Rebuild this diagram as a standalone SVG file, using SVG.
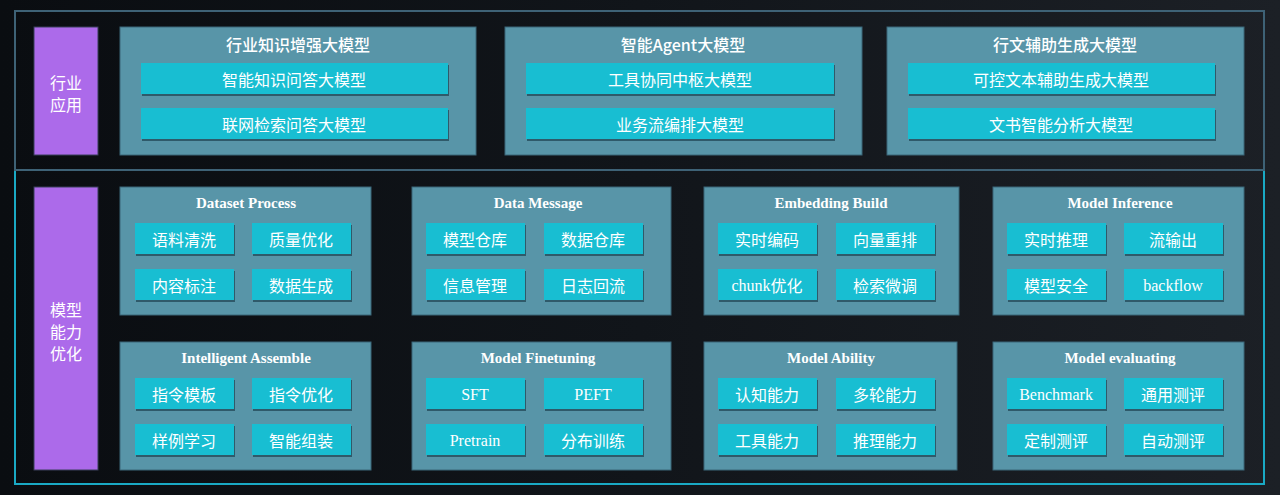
<svg xmlns="http://www.w3.org/2000/svg" width="1280" height="495" viewBox="0 0 1280 495">
<defs>
<linearGradient id="bg" x1="0" y1="0" x2="1" y2="0">
<stop offset="0" stop-color="#0a0d11"/>
<stop offset="0.5" stop-color="#11151a"/>
<stop offset="1" stop-color="#1c2026"/>
</linearGradient>
</defs>
<style>
.side{fill:#ac6aea;stroke:#3b3f5a;stroke-width:1}
.panel{fill:#5895a8;stroke:#3a6678;stroke-width:1}
.box{fill:#18bed2}
.shadow{fill:#2f5a6a}
.t{fill:#ffffff;font-family:"Liberation Serif","Noto Sans CJK SC",serif;text-anchor:middle;dominant-baseline:central}
.cn{font-family:"Noto Sans CJK SC",sans-serif;font-size:16px}
.en{font-family:"Liberation Serif","Noto Sans CJK SC",serif;font-size:16px}
.title{font-size:16px;font-weight:500}
.stitle{font-size:15px;font-weight:bold;font-family:"Liberation Serif",serif}
</style>
<rect x="0" y="0" width="1280" height="495" fill="url(#bg)"/>
<g id="frames">
<rect x="15" y="170" width="1249" height="314" fill="none" stroke="#1aa9c4" stroke-width="2"/>
<rect x="15" y="11" width="1249" height="159" fill="none" stroke="#3e6276" stroke-width="2"/>
</g>
<g id="side-app">
<rect class="side" x="34" y="27" width="64" height="128"/>
<text class="t cn" x="66" y="82">行业</text>
<text class="t cn" x="66" y="104">应用</text>
</g>
<g id="side-model">
<rect class="side" x="34" y="187" width="64" height="283"/>
<text class="t cn" x="66" y="309">模型</text>
<text class="t cn" x="66" y="331">能力</text>
<text class="t cn" x="66" y="353">优化</text>
</g>
<g id="app1">
<rect class="panel" x="120" y="27" width="356" height="128"/>
<text class="t cn title" x="298" y="44">行业知识增强大模型</text>
<rect class="shadow" x="142" y="65" width="307" height="31"/>
<rect class="box" x="141" y="63" width="307" height="31"/>
<text class="t cn" x="294" y="79">智能知识问答大模型</text>
<rect class="shadow" x="142" y="110" width="307" height="31"/>
<rect class="box" x="141" y="108" width="307" height="31"/>
<text class="t cn" x="294" y="124">联网检索问答大模型</text>
</g>
<g id="app2">
<rect class="panel" x="505" y="27" width="357" height="128"/>
<text class="t cn title" x="683" y="44">智能Agent大模型</text>
<rect class="shadow" x="527" y="65" width="308" height="31"/>
<rect class="box" x="526" y="63" width="308" height="31"/>
<text class="t cn" x="680" y="79">工具协同中枢大模型</text>
<rect class="shadow" x="527" y="110" width="308" height="31"/>
<rect class="box" x="526" y="108" width="308" height="31"/>
<text class="t cn" x="680" y="124">业务流编排大模型</text>
</g>
<g id="app3">
<rect class="panel" x="887" y="27" width="357" height="128"/>
<text class="t cn title" x="1065" y="44">行文辅助生成大模型</text>
<rect class="shadow" x="909" y="65" width="307" height="31"/>
<rect class="box" x="908" y="63" width="307" height="31"/>
<text class="t cn" x="1061" y="79">可控文本辅助生成大模型</text>
<rect class="shadow" x="909" y="110" width="307" height="31"/>
<rect class="box" x="908" y="108" width="307" height="31"/>
<text class="t cn" x="1061" y="124">文书智能分析大模型</text>
</g>
<g id="dataset-process">
<rect class="panel" x="120" y="187" width="251" height="128"/>
<text class="t stitle" x="246" y="203">Dataset Process</text>
<rect class="shadow" x="136" y="225" width="99" height="31"/><rect class="box" x="135" y="223" width="99" height="31"/>
<text class="t cn" x="184" y="239">语料清洗</text>
<rect class="shadow" x="253" y="225" width="99" height="31"/><rect class="box" x="252" y="223" width="99" height="31"/>
<text class="t cn" x="301" y="239">质量优化</text>
<rect class="shadow" x="136" y="271" width="99" height="31"/><rect class="box" x="135" y="269" width="99" height="31"/>
<text class="t cn" x="184" y="285">内容标注</text>
<rect class="shadow" x="253" y="271" width="99" height="31"/><rect class="box" x="252" y="269" width="99" height="31"/>
<text class="t cn" x="301" y="285">数据生成</text>
</g>
<g id="data-message">
<rect class="panel" x="412" y="187" width="259" height="128"/>
<text class="t stitle" x="538" y="203">Data Message</text>
<rect class="shadow" x="427" y="225" width="99" height="31"/><rect class="box" x="426" y="223" width="99" height="31"/>
<text class="t cn" x="475" y="239">模型仓库</text>
<rect class="shadow" x="545" y="225" width="99" height="31"/><rect class="box" x="544" y="223" width="99" height="31"/>
<text class="t cn" x="593" y="239">数据仓库</text>
<rect class="shadow" x="427" y="271" width="99" height="31"/><rect class="box" x="426" y="269" width="99" height="31"/>
<text class="t cn" x="475" y="285">信息管理</text>
<rect class="shadow" x="545" y="271" width="99" height="31"/><rect class="box" x="544" y="269" width="99" height="31"/>
<text class="t cn" x="593" y="285">日志回流</text>
</g>
<g id="embedding-build">
<rect class="panel" x="704" y="187" width="255" height="128"/>
<text class="t stitle" x="831" y="203">Embedding Build</text>
<rect class="shadow" x="719" y="225" width="99" height="31"/><rect class="box" x="718" y="223" width="99" height="31"/>
<text class="t cn" x="767" y="239">实时编码</text>
<rect class="shadow" x="837" y="225" width="99" height="31"/><rect class="box" x="836" y="223" width="99" height="31"/>
<text class="t cn" x="885" y="239">向量重排</text>
<rect class="shadow" x="719" y="271" width="99" height="31"/><rect class="box" x="718" y="269" width="99" height="31"/>
<text class="t en" x="767" y="285">chunk<tspan font-family="Noto Sans CJK SC, sans-serif">优化</tspan></text>
<rect class="shadow" x="837" y="271" width="99" height="31"/><rect class="box" x="836" y="269" width="99" height="31"/>
<text class="t cn" x="885" y="285">检索微调</text>
</g>
<g id="model-inference">
<rect class="panel" x="993" y="187" width="251" height="128"/>
<text class="t stitle" x="1120" y="203">Model Inference</text>
<rect class="shadow" x="1008" y="225" width="99" height="31"/><rect class="box" x="1007" y="223" width="99" height="31"/>
<text class="t cn" x="1056" y="239">实时推理</text>
<rect class="shadow" x="1125" y="225" width="99" height="31"/><rect class="box" x="1124" y="223" width="99" height="31"/>
<text class="t cn" x="1173" y="239">流输出</text>
<rect class="shadow" x="1008" y="271" width="99" height="31"/><rect class="box" x="1007" y="269" width="99" height="31"/>
<text class="t cn" x="1056" y="285">模型安全</text>
<rect class="shadow" x="1125" y="271" width="99" height="31"/><rect class="box" x="1124" y="269" width="99" height="31"/>
<text class="t en" x="1173" y="285">backflow</text>
</g>
<g id="intelligent-assemble">
<rect class="panel" x="120" y="342" width="251" height="128"/>
<text class="t stitle" x="246" y="358">Intelligent Assemble</text>
<rect class="shadow" x="136" y="380" width="99" height="31"/><rect class="box" x="135" y="378" width="99" height="31"/>
<text class="t cn" x="184" y="394">指令模板</text>
<rect class="shadow" x="253" y="380" width="99" height="31"/><rect class="box" x="252" y="378" width="99" height="31"/>
<text class="t cn" x="301" y="394">指令优化</text>
<rect class="shadow" x="136" y="426" width="99" height="31"/><rect class="box" x="135" y="424" width="99" height="31"/>
<text class="t cn" x="184" y="440">样例学习</text>
<rect class="shadow" x="253" y="426" width="99" height="31"/><rect class="box" x="252" y="424" width="99" height="31"/>
<text class="t cn" x="301" y="440">智能组装</text>
</g>
<g id="model-finetuning">
<rect class="panel" x="412" y="342" width="259" height="128"/>
<text class="t stitle" x="538" y="358">Model Finetuning</text>
<rect class="shadow" x="427" y="380" width="99" height="31"/><rect class="box" x="426" y="378" width="99" height="31"/>
<text class="t en" x="475" y="394">SFT</text>
<rect class="shadow" x="545" y="380" width="99" height="31"/><rect class="box" x="544" y="378" width="99" height="31"/>
<text class="t en" x="593" y="394">PEFT</text>
<rect class="shadow" x="427" y="426" width="99" height="31"/><rect class="box" x="426" y="424" width="99" height="31"/>
<text class="t en" x="475" y="440">Pretrain</text>
<rect class="shadow" x="545" y="426" width="99" height="31"/><rect class="box" x="544" y="424" width="99" height="31"/>
<text class="t cn" x="593" y="440">分布训练</text>
</g>
<g id="model-ability">
<rect class="panel" x="704" y="342" width="253" height="128"/>
<text class="t stitle" x="831" y="358">Model Ability</text>
<rect class="shadow" x="719" y="380" width="99" height="31"/><rect class="box" x="718" y="378" width="99" height="31"/>
<text class="t cn" x="767" y="394">认知能力</text>
<rect class="shadow" x="837" y="380" width="99" height="31"/><rect class="box" x="836" y="378" width="99" height="31"/>
<text class="t cn" x="885" y="394">多轮能力</text>
<rect class="shadow" x="719" y="426" width="99" height="31"/><rect class="box" x="718" y="424" width="99" height="31"/>
<text class="t cn" x="767" y="440">工具能力</text>
<rect class="shadow" x="837" y="426" width="99" height="31"/><rect class="box" x="836" y="424" width="99" height="31"/>
<text class="t cn" x="885" y="440">推理能力</text>
</g>
<g id="model-evaluating">
<rect class="panel" x="993" y="342" width="251" height="128"/>
<text class="t stitle" x="1120" y="358">Model evaluating</text>
<rect class="shadow" x="1008" y="380" width="99" height="31"/><rect class="box" x="1007" y="378" width="99" height="31"/>
<text class="t en" x="1056" y="394">Benchmark</text>
<rect class="shadow" x="1125" y="380" width="99" height="31"/><rect class="box" x="1124" y="378" width="99" height="31"/>
<text class="t cn" x="1173" y="394">通用测评</text>
<rect class="shadow" x="1008" y="426" width="99" height="31"/><rect class="box" x="1007" y="424" width="99" height="31"/>
<text class="t cn" x="1056" y="440">定制测评</text>
<rect class="shadow" x="1125" y="426" width="99" height="31"/><rect class="box" x="1124" y="424" width="99" height="31"/>
<text class="t cn" x="1173" y="440">自动测评</text>
</g>
<g id="connectors"></g>
</svg>
